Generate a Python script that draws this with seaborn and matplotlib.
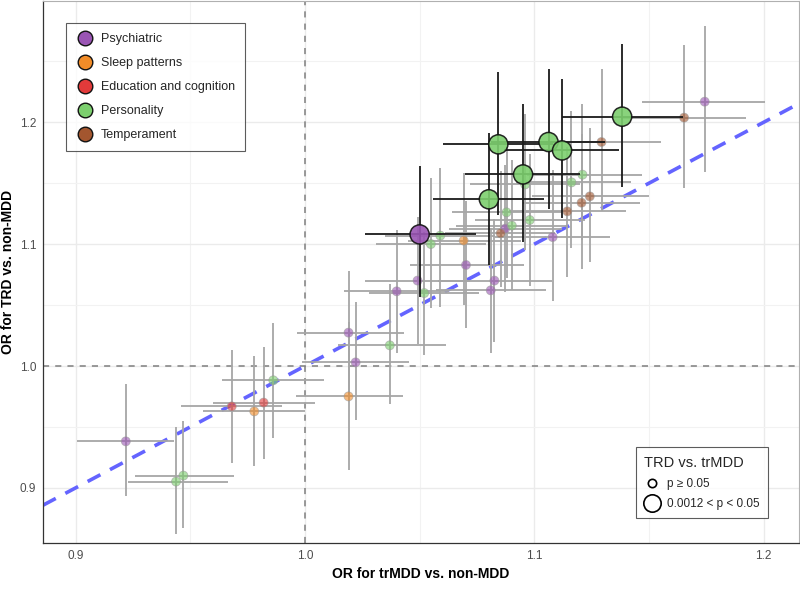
import numpy as np
import pandas as pd
import matplotlib
matplotlib.use("Agg")
import matplotlib.pyplot as plt
from matplotlib.lines import Line2D
import seaborn as sns

# ---------------- data ----------------
categories = ["Psychiatric", "Sleep patterns", "Education and cognition", "Personality", "Temperament"]
palette = ["#9a55b4", "#f28c28", "#e23a3a", "#7ccf6e", "#a3562f"]

psy_x    = [1.050, 1.1743, 1.0873, 1.108, 1.0702, 1.0491, 1.0826, 1.040, 1.081, 1.019, 1.0221, 0.9219]
psy_xlo  = [1.026, 1.1471, 1.063, 1.083, 1.0457, 1.026, 1.058, 1.017, 1.057, 0.9967, 0.9988, 0.9008]
psy_xhi  = [1.0745, 1.2004, 1.112, 1.133, 1.0955, 1.072, 1.1078, 1.063, 1.105, 1.0431, 1.0453, 0.9429]
psy_y    = [1.108, 1.2169, 1.1127, 1.1058, 1.0829, 1.0701, 1.0701, 1.0613, 1.0621, 1.0274, 1.003, 0.9382]
psy_ylo  = [1.0566, 1.1591, 1.061, 1.0533, 1.0315, 1.018, 1.0197, 1.0103, 1.011, 0.977, 0.9555, 0.8934]
psy_yhi  = [1.1638, 1.2787, 1.165, 1.1605, 1.135, 1.122, 1.121, 1.112, 1.113, 1.0777, 1.0525, 0.985]
psy_sig  = [1, 0, 0, 0, 0, 0, 0, 0, 0, 0, 0, 0]

slp_x    = [1.0692, 1.019, 0.9779]
slp_xlo  = [1.045, 0.996, 0.9557]
slp_xhi  = [1.094, 1.0428, 1.000]
slp_y    = [1.1029, 0.9751, 0.9628]
slp_ylo  = [1.050, 0.9144, 0.918]
slp_yhi  = [1.158, 1.036, 1.008]
slp_sig  = [0, 0, 0]

edu_x    = [0.9681, 0.982]
edu_xlo  = [0.9458, 0.9598]
edu_xhi  = [0.9901, 1.0044]
edu_y    = [0.9669, 0.970]
edu_ylo  = [0.9204, 0.924]
edu_yhi  = [1.013, 1.016]
edu_sig  = [0, 0]

per_x    = [1.0843, 1.1062, 1.1121, 1.1383, 1.0951, 1.0802,
            1.121, 1.1162, 1.096, 1.098, 1.0879, 1.0902, 1.059, 1.0549, 1.052, 1.037, 0.947, 0.9438, 0.9862]
per_xlo  = [1.060, 1.081, 1.087, 1.112, 1.0697, 1.0559,
            1.097, 1.092, 1.072, 1.074, 1.064, 1.066, 1.035, 1.031, 1.028, 1.0142, 0.9259, 0.9227, 0.964]
per_xhi  = [1.108, 1.131, 1.137, 1.165, 1.1198, 1.1043,
            1.147, 1.142, 1.120, 1.122, 1.112, 1.114, 1.083, 1.079, 1.076, 1.0613, 0.969, 0.9666, 1.0083]
per_y    = [1.1819, 1.1838, 1.1769, 1.2046, 1.1572, 1.1368,
            1.157, 1.1507, 1.149, 1.1198, 1.1261, 1.1152, 1.107, 1.1001, 1.0599, 1.017, 0.9101, 0.9052, 0.9883]
per_ylo  = [1.124, 1.1286, 1.1217, 1.147, 1.1017, 1.0826,
            1.103, 1.0966, 1.095, 1.066, 1.072, 1.062, 1.0484, 1.0473, 1.0094, 0.9686, 0.8669, 0.8625, 0.941]
per_yhi  = [1.2412, 1.2434, 1.2352, 1.2645, 1.2153, 1.191,
            1.2153, 1.209, 1.2065, 1.174, 1.180, 1.169, 1.1624, 1.1545, 1.110, 1.0676, 0.9546, 0.950, 1.035]
per_sig  = [1, 1, 1, 1, 1, 1, 0, 0, 0, 0, 0, 0, 0, 0, 0, 0, 0, 0, 0]

tem_x    = [1.1653, 1.1293, 1.1242, 1.1206, 1.1144, 1.0853]
tem_xlo  = [1.138, 1.103, 1.099, 1.095, 1.089, 1.061]
tem_xhi  = [1.1925, 1.1554, 1.150, 1.146, 1.140, 1.109]
tem_y    = [1.2038, 1.1838, 1.1392, 1.134, 1.1269, 1.1089]
tem_ylo  = [1.1464, 1.127, 1.085, 1.080, 1.073, 1.0648]
tem_yhi  = [1.2637, 1.2434, 1.1955, 1.190, 1.180, 1.160]
tem_sig  = [0, 0, 0, 0, 0, 0]

x_ticks = [0.9, 1.0, 1.1, 1.2]
y_ticks = [0.9, 1.0, 1.1, 1.2]
x_label = "OR for trMDD vs. non-MDD"
y_label = "OR for TRD vs. non-MDD"
size_title = "TRD vs. trMDD"
size_labels = ["p \u2265 0.05", "0.0012 < p < 0.05"]

groups = [
    (categories[0], psy_x, psy_xlo, psy_xhi, psy_y, psy_ylo, psy_yhi, psy_sig),
    (categories[1], slp_x, slp_xlo, slp_xhi, slp_y, slp_ylo, slp_yhi, slp_sig),
    (categories[2], edu_x, edu_xlo, edu_xhi, edu_y, edu_ylo, edu_yhi, edu_sig),
    (categories[3], per_x, per_xlo, per_xhi, per_y, per_ylo, per_yhi, per_sig),
    (categories[4], tem_x, tem_xlo, tem_xhi, tem_y, tem_ylo, tem_yhi, tem_sig),
]
frames = []
for name, x, xlo, xhi, y, ylo, yhi, sig in groups:
    frames.append(pd.DataFrame({"category": name, "x": x, "xlo": xlo, "xhi": xhi,
                                "y": y, "ylo": ylo, "yhi": yhi, "sig": sig}))
df = pd.concat(frames, ignore_index=True)
df["category"] = pd.Categorical(df["category"], categories=categories)

# ---------------- plot ----------------
sns.set_theme(style="white")
plt.rcParams["font.family"] = ["Liberation Sans", "DejaVu Sans"]

fig = plt.figure(figsize=(8, 5.94), dpi=100)
ax = fig.add_axes([43 / 800, 1 - 543 / 594, 756 / 800, 542 / 594])

ax.set_xlim(0.8858, 1.2154)
ax.set_ylim(0.8548, 1.2995)

ax.set_xticks(x_ticks)
ax.set_yticks(y_ticks)
ax.set_xticks([0.95, 1.05, 1.15], minor=True)
ax.set_yticks([0.95, 1.05, 1.15, 1.25], minor=True)
ax.grid(True, which="major", color="#ebebeb", linewidth=1.0, zorder=0)
ax.grid(True, which="minor", color="#f2f2f2", linewidth=0.8, zorder=0)
ax.set_axisbelow(True)

# reference lines
ax.axvline(1.0, color="#7f7f7f", linestyle=(0, (4, 4)), linewidth=1.1, zorder=1)
ax.axhline(1.0, color="#7f7f7f", linestyle=(0, (4, 4)), linewidth=1.1, zorder=1)
ax.axline((1.0, 1.0), slope=1.0, color="#6464ff", linestyle=(0, (4, 3)), linewidth=2.6, zorder=2)

# error bars
ns = df[df["sig"] == 0]
sg = df[df["sig"] == 1]
for sub, col, z in [(ns, "#a6a6a6", 3), (sg, "#1a1a1a", 5)]:
    ax.errorbar(sub["x"], sub["y"],
                xerr=[sub["x"] - sub["xlo"], sub["xhi"] - sub["x"]],
                yerr=[sub["y"] - sub["ylo"], sub["yhi"] - sub["y"]],
                fmt="none", ecolor=col, elinewidth=1.3, capsize=0, zorder=z)

pal = dict(zip(categories, palette))
sns.scatterplot(data=ns, x="x", y="y", hue="category", palette=pal, s=42,
                alpha=0.6, edgecolor="#9a9a9a", linewidth=0.6, legend=False, ax=ax, zorder=4)
sns.scatterplot(data=sg, x="x", y="y", hue="category", palette=pal, s=190,
                alpha=0.9, edgecolor="#111111", linewidth=1.1, legend=False, ax=ax, zorder=6)

# axes styling
for side in ["left", "bottom"]:
    ax.spines[side].set_color("#333333")
    ax.spines[side].set_linewidth(0.9)
for side in ["top", "right"]:
    ax.spines[side].set_color("#b0b0b0")
    ax.spines[side].set_linewidth(0.8)
ax.tick_params(axis="both", which="major", length=3, width=0.8, color="#333333",
               labelsize=8.5, labelcolor="#4d4d4d", pad=2)
ax.tick_params(axis="both", which="minor", length=0)
ax.set_xlabel(x_label, fontsize=10, fontweight="bold", color="black", labelpad=4)
ax.set_ylabel(y_label, fontsize=10, fontweight="bold", color="black", labelpad=3)

# legends
cat_handles = [Line2D([0], [0], marker="o", linestyle="none", markersize=10.5,
                      markerfacecolor=c, markeredgecolor="#111111", markeredgewidth=1.0)
               for c in palette]
leg1 = ax.legend(cat_handles, categories, loc="upper left", bbox_to_anchor=(0.0304, 0.9585),
                 frameon=True, fancybox=False, edgecolor="#333333", fontsize=9,
                 labelspacing=0.95, handletextpad=0.6, borderpad=0.8, borderaxespad=0,
                 handlelength=1.4)
leg1.get_frame().set_linewidth(0.8)
ax.add_artist(leg1)

size_handles = [Line2D([0], [0], marker="o", linestyle="none", markersize=6,
                       markerfacecolor="white", markeredgecolor="black", markeredgewidth=1.2),
                Line2D([0], [0], marker="o", linestyle="none", markersize=12.5,
                       markerfacecolor="white", markeredgecolor="black", markeredgewidth=1.2)]
leg2 = ax.legend(size_handles, size_labels, title=size_title, loc="lower right",
                 bbox_to_anchor=(0.9594, (543 - 518.3) / 542), frameon=True, fancybox=False,
                 edgecolor="#333333", fontsize=8.5, title_fontsize=10.5,
                 labelspacing=0.7, handletextpad=0.6, borderpad=0.7, borderaxespad=0,
                 handlelength=1.4)
leg2.get_frame().set_linewidth(0.8)
leg2._legend_box.align = "left"

fig.savefig("out.png", dpi=100)
